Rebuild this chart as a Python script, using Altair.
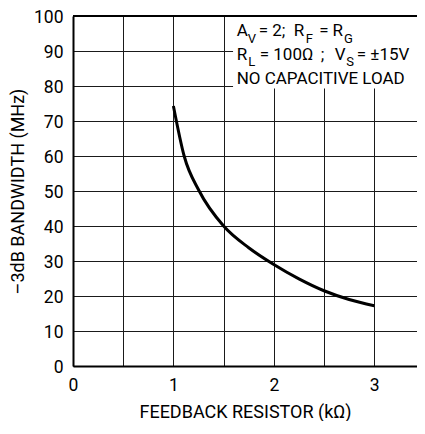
import altair as alt
import pandas as pd

# ---- data ----
rf_kohm = [1.0, 1.107, 1.257, 1.5, 1.75, 2.0, 2.25, 2.5, 2.75, 3.0]
bw_mhz = [74.3, 60.0, 50.0, 40.0, 33.8, 29.0, 24.9, 21.5, 19.0, 17.2]

x_ticks = [0, 0.5, 1, 1.5, 2, 2.5, 3, 3.5]
y_ticks = [0, 10, 20, 30, 40, 50, 60, 70, 80, 90, 100]

# annotation segments (text, x in kOhm, y in MHz, is_subscript)
ann_text = ["A", "V", "= 2;", "R", "F", "=", "R", "G",
            "R", "L", "= 100Ω", ";", "V", "S", "= ±15V",
            "NO CAPACITIVE LOAD"]
ann_x = [1.630, 1.740, 1.850, 2.198, 2.318, 2.452, 2.585, 2.698,
         1.630, 1.745, 1.860, 2.468, 2.607, 2.721, 2.826,
         1.630]
ann_y = [94.2, 92.2, 94.2, 94.2, 92.2, 94.2, 94.2, 92.2,
         87.5, 85.7, 87.5, 87.5, 87.5, 85.7, 87.5,
         80.6]
ann_sub = [0, 1, 0, 0, 1, 0, 0, 1,
           0, 1, 0, 0, 0, 1, 0,
           0]

box_x = [1.594]
box_x2 = [3.5]
box_y = [79.3]
box_y2 = [100]

frame_top = [100]

FONT = "Roboto"
X_MAX = 3.426   # visible part of the 0..3.5 axis

curve = pd.DataFrame({"rf": rf_kohm, "bw": bw_mhz})
ann = pd.DataFrame({"t": ann_text, "x": ann_x, "y": ann_y, "sub": ann_sub})
ann["size"] = [13 if s else 17 for s in ann_sub]
box = pd.DataFrame({"x": box_x, "x2": box_x2, "y": box_y, "y2": box_y2})
top = pd.DataFrame({"y": frame_top})

xs = alt.Scale(domain=[0, X_MAX], nice=False, zero=False)
ys = alt.Scale(domain=[0, 100], nice=False)

x_axis = alt.Axis(
    values=x_ticks, title="FEEDBACK RESISTOR (kΩ)",
    labelExpr="datum.value % 1 == 0 ? format(datum.value, 'd') : ''",
    grid=True, ticks=False, domain=True, labelPadding=10,
    titlePadding=10, labelFlush=False, labelOverlap=False,
)
y_axis = alt.Axis(
    values=y_ticks, title="–3dB BANDWIDTH (MHz)", format="d",
    grid=True, ticks=False, domain=True, labelPadding=10,
    titlePadding=6, labelOverlap=False, labelOffset=1,
)


def X(field):
    return alt.X(field, scale=xs, axis=x_axis)


def Y(field):
    return alt.Y(field, scale=ys, axis=y_axis)


base_box = alt.Chart(box).mark_rect(color="white", clip=True).encode(
    x=X("x:Q"), x2="x2", y=Y("y:Q"), y2="y2",
)

top_rule = alt.Chart(top).mark_rule(color="black", strokeWidth=2).encode(
    y=Y("y:Q"),
)

line = alt.Chart(curve).mark_line(
    color="black", strokeWidth=3, interpolate="monotone"
).encode(
    x=X("rf:Q"), y=Y("bw:Q"),
)

text = alt.Chart(ann).mark_text(
    align="left", baseline="alphabetic", font=FONT, color="black"
).encode(
    x=X("x:Q"), y=Y("y:Q"),
    text="t:N",
    size=alt.Size("size:Q", scale=None, legend=None),
)

chart = alt.layer(base_box, top_rule, line, text).properties(
    width=344, height=350,
    autosize=alt.AutoSizeParams(type="none"),
    padding={"left": 65, "top": 8, "right": 0, "bottom": 55},
).configure_view(
    stroke=None
).configure_axis(
    gridColor="#1a1a1a", gridWidth=1, gridOpacity=1,
    domainColor="black", domainWidth=2,
    labelFont=FONT, labelFontSize=17.5, labelColor="black",
    titleFont=FONT, titleFontSize=18, titleFontWeight="normal",
    titleColor="black",
)

chart.save("out.html", embed_options={"renderer": "svg", "actions": False})
